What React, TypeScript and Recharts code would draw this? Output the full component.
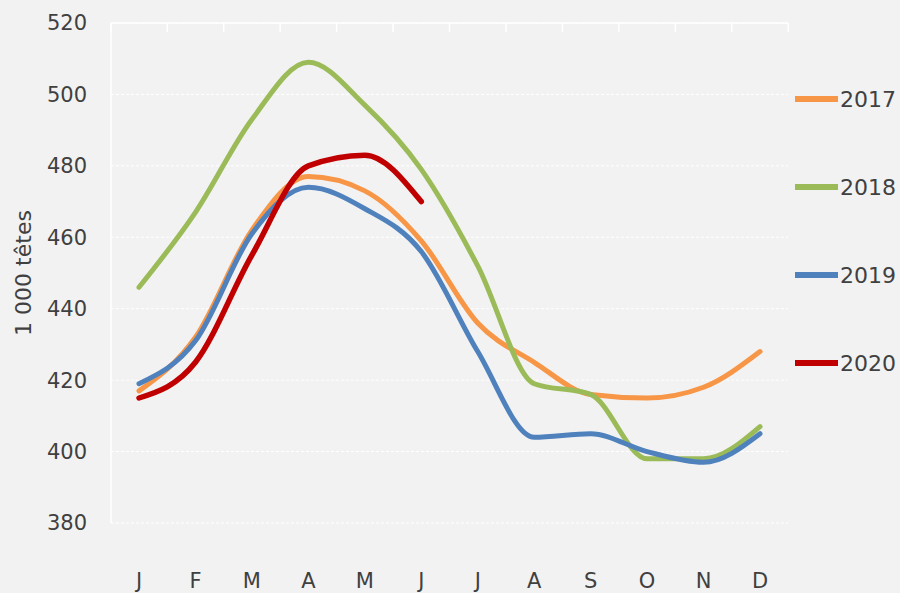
import { LineChart, Line, XAxis, YAxis, CartesianGrid, Legend } from 'recharts';

const months = ['J', 'F', 'M', 'A', 'M', 'J', 'J', 'A', 'S', 'O', 'N', 'D'];
const v2017 = [417, 432, 462, 477, 473, 459, 436, 425, 416, 415, 418, 428];
const v2018 = [446, 467, 493, 509, 497, 479, 452, 419, 416, 398, 398, 407];
const v2019 = [419, 431, 461, 474, 468, 456, 428, 404, 405, 400, 397, 405];
const v2020 = [415, 425, 455, 480, 483, 470];
const yTicks = [380, 400, 420, 440, 460, 480, 500, 520];

const series = [
  { key: 'y2017', name: '2017', color: '#F79646' },
  { key: 'y2018', name: '2018', color: '#9BBB59' },
  { key: 'y2019', name: '2019', color: '#4F81BD' },
  { key: 'y2020', name: '2020', color: '#C00000' },
];

const data = months.map((m, i) => ({
  month: m,
  y2017: v2017[i],
  y2018: v2018[i],
  y2019: v2019[i],
  y2020: i < v2020.length ? v2020[i] : null,
}));

const FONT = '"DejaVu Sans", sans-serif';
const TEXT = '#404040';
const HALF_BAND = 28.2;

const YLabel = ({ viewBox }: any) => {
  const cx = viewBox.x + 23;
  const cy = viewBox.y + viewBox.height / 2;
  return (
    <text
      x={cx}
      y={cy}
      transform={`rotate(-90, ${cx}, ${cy})`}
      textAnchor="middle"
      dominantBaseline="central"
      fill={TEXT}
      fontSize={22}
      fontFamily={FONT}
    >
      1 000 têtes
    </text>
  );
};

// small white ticks hanging from the top border, between months
const BoundaryTick = ({ x, y, index }: any) => (
  <g>
    <line x1={x - HALF_BAND} x2={x - HALF_BAND} y1={y} y2={y + 9} stroke="#ffffff" strokeWidth={1.5} />
    {index === months.length - 1 && (
      <line x1={x + HALF_BAND} x2={x + HALF_BAND} y1={y} y2={y + 9} stroke="#ffffff" strokeWidth={1.5} />
    )}
  </g>
);

// legend drawn on the right, one entry every 88px
const renderLegend = () => (
  <div style={{ fontFamily: FONT, color: TEXT, fontSize: 22 }}>
    {series.map((s) => (
      <div key={s.key} style={{ height: 88, display: 'flex', alignItems: 'center' }}>
        <span style={{ display: 'inline-block', width: 43, height: 6, background: s.color, marginRight: 2 }} />
        <span>{s.name}</span>
      </div>
    ))}
  </div>
);

const App = () => {
  return (
    <div style={{ position: 'absolute', left: 0, top: 0, width: 900, height: 593, background: '#f2f2f2' }}>
      <LineChart
        width={900}
        height={593}
        data={data}
        margin={{ top: 22, right: 112, bottom: 0, left: 0 }}
        style={{ fontFamily: FONT }}
      >
        <CartesianGrid vertical={false} stroke="#ffffff" strokeDasharray="3 2" />
        <XAxis
          dataKey="month"
          height={70}
          padding={{ left: 28, right: 28 }}
          axisLine={false}
          tickLine={false}
          tickSize={0}
          tickMargin={50}
          tick={{ fill: TEXT, fontSize: 21 }}
          interval={0}
        />
        <XAxis
          xAxisId="top"
          dataKey="month"
          orientation="top"
          height={1}
          padding={{ left: 28, right: 28 }}
          interval={0}
          tickSize={0}
          tickMargin={0}
          tickLine={false}
          tick={<BoundaryTick />}
          axisLine={{ stroke: '#ffffff', strokeWidth: 1.5 }}
        />
        <YAxis
          width={111}
          domain={[380, 520]}
          ticks={yTicks}
          axisLine={{ stroke: '#ffffff', strokeWidth: 1.5 }}
          tickLine={false}
          tickSize={0}
          tickMargin={24}
          tick={{ fill: TEXT, fontSize: 21 }}
          label={<YLabel />}
        />
        <Legend
          layout="horizontal"
          verticalAlign="middle"
          align="center"
          content={renderLegend}
          wrapperStyle={{ left: 795, top: 55, width: 105 }}
        />
        {series.map((s, i) => (
          <Line
            key={s.key}
            xAxisId={i === 0 ? 'top' : 0}
            dataKey={s.key}
            name={s.name}
            type="monotone"
            stroke={s.color}
            strokeWidth={s.key === 'y2020' ? 5.5 : 5}
            dot={false}
            activeDot={false}
            strokeLinecap="round"
            isAnimationActive={false}
          />
        ))}
      </LineChart>
    </div>
  );
};

export default App;
